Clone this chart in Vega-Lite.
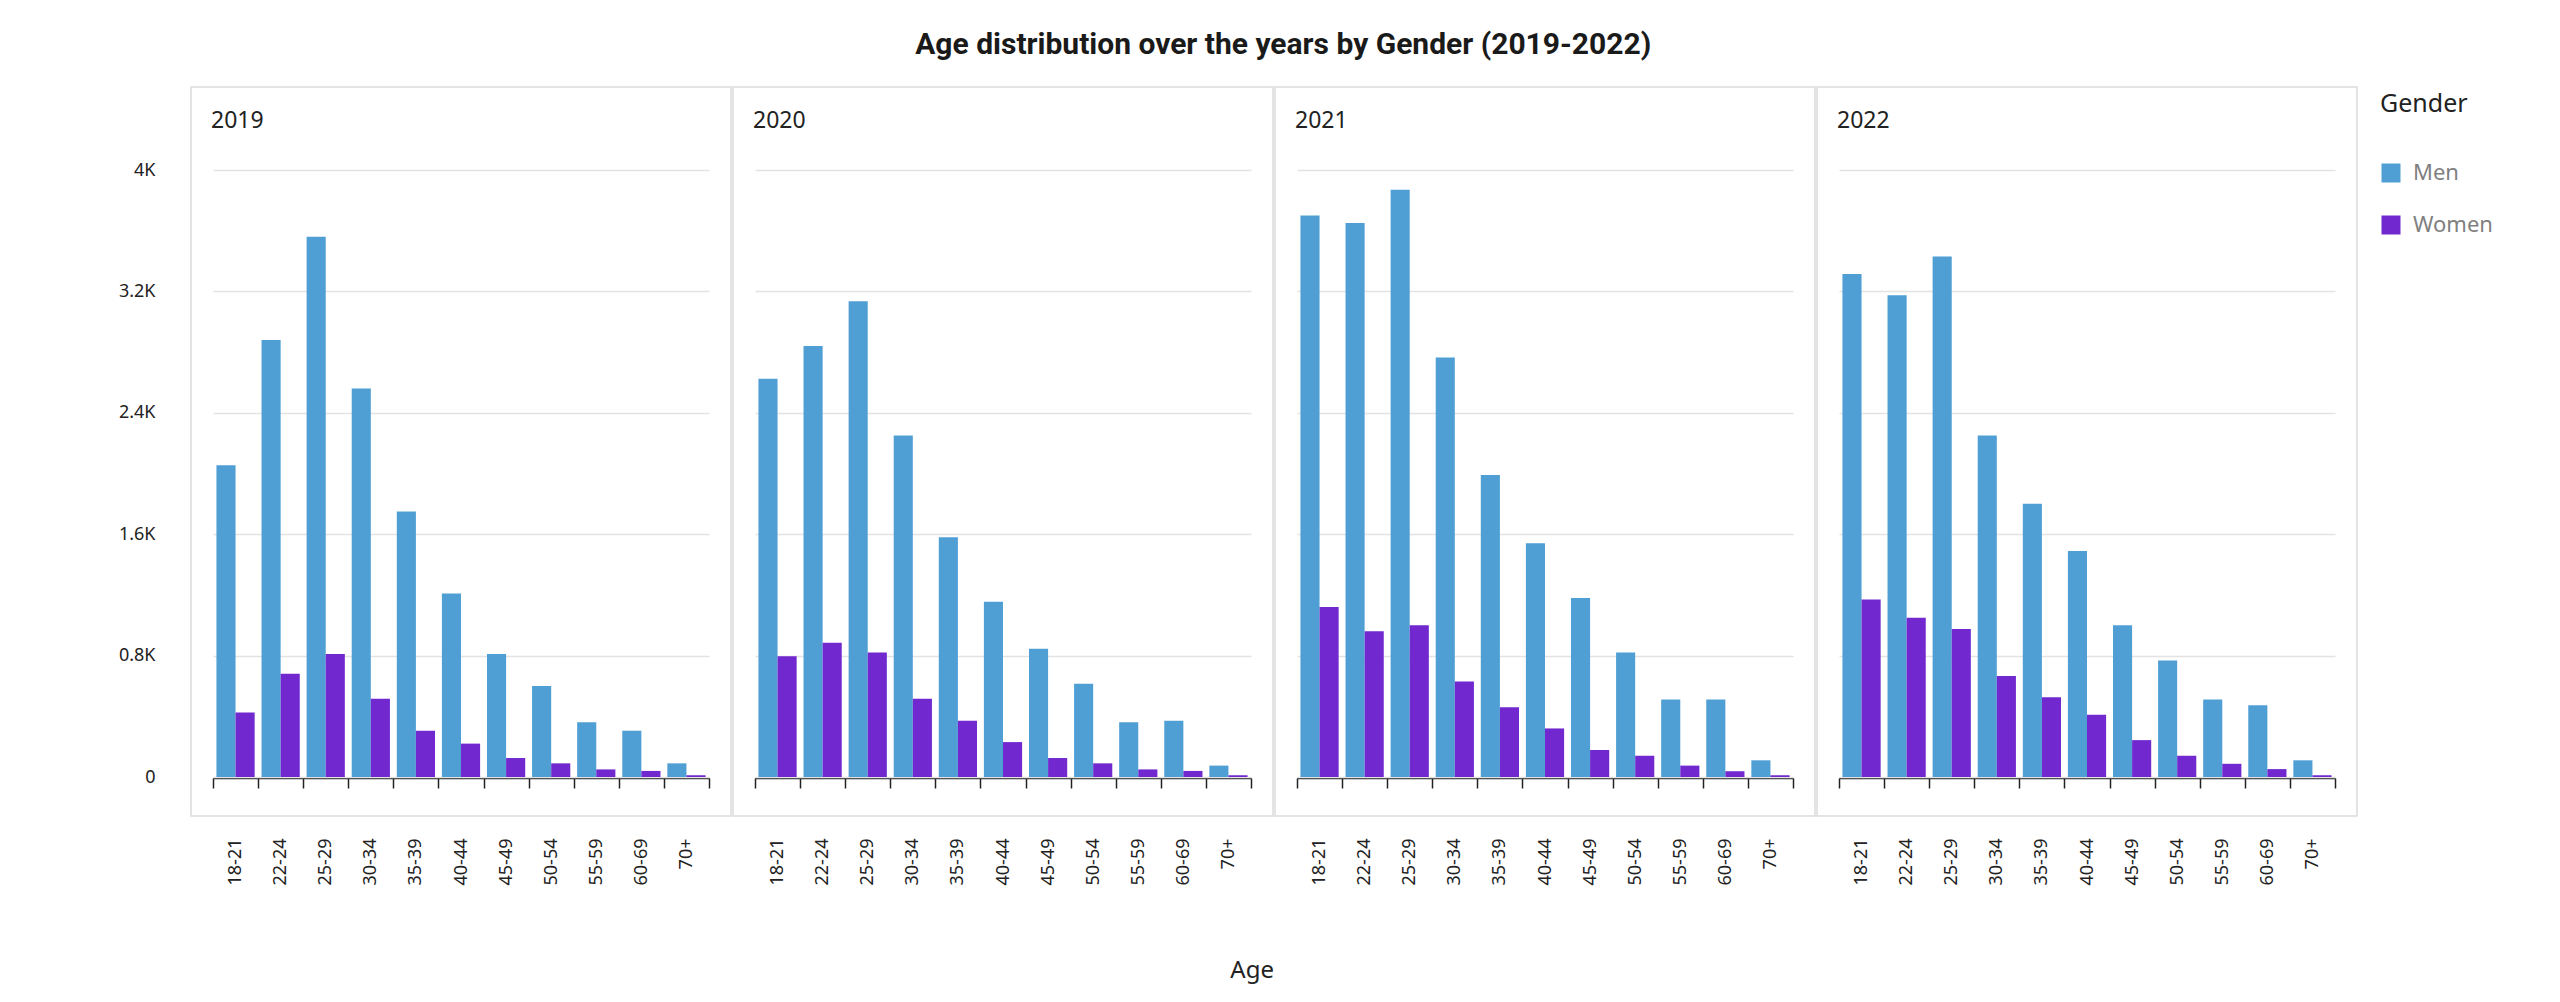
{
  "$schema": "https://vega.github.io/schema/vega-lite/v6.json",
  "background": "white",
  "padding": {"left": 118, "top": 30, "right": 10, "bottom": 10},
  "title": {"text": "Age distribution over the years by Gender (2019-2022)", "font": "Roboto", "fontSize": 30, "fontWeight": "bold", "color": "#1a1a1a", "anchor": "middle", "offset": 26, "dx": -25},
  "data": {"values": [
    {"Year": "2019", "Gender": "Men", "Age": "18-21", "Count": 2055},
    {"Year": "2019", "Gender": "Men", "Age": "22-24", "Count": 2880},
    {"Year": "2019", "Gender": "Men", "Age": "25-29", "Count": 3560},
    {"Year": "2019", "Gender": "Men", "Age": "30-34", "Count": 2560},
    {"Year": "2019", "Gender": "Men", "Age": "35-39", "Count": 1750},
    {"Year": "2019", "Gender": "Men", "Age": "40-44", "Count": 1210},
    {"Year": "2019", "Gender": "Men", "Age": "45-49", "Count": 810},
    {"Year": "2019", "Gender": "Men", "Age": "50-54", "Count": 600},
    {"Year": "2019", "Gender": "Men", "Age": "55-59", "Count": 360},
    {"Year": "2019", "Gender": "Men", "Age": "60-69", "Count": 305},
    {"Year": "2019", "Gender": "Men", "Age": "70+", "Count": 90},
    {"Year": "2019", "Gender": "Women", "Age": "18-21", "Count": 425},
    {"Year": "2019", "Gender": "Women", "Age": "22-24", "Count": 680},
    {"Year": "2019", "Gender": "Women", "Age": "25-29", "Count": 810},
    {"Year": "2019", "Gender": "Women", "Age": "30-34", "Count": 515},
    {"Year": "2019", "Gender": "Women", "Age": "35-39", "Count": 305},
    {"Year": "2019", "Gender": "Women", "Age": "40-44", "Count": 220},
    {"Year": "2019", "Gender": "Women", "Age": "45-49", "Count": 125},
    {"Year": "2019", "Gender": "Women", "Age": "50-54", "Count": 90},
    {"Year": "2019", "Gender": "Women", "Age": "55-59", "Count": 50},
    {"Year": "2019", "Gender": "Women", "Age": "60-69", "Count": 40},
    {"Year": "2019", "Gender": "Women", "Age": "70+", "Count": 12},
    {"Year": "2020", "Gender": "Men", "Age": "18-21", "Count": 2625},
    {"Year": "2020", "Gender": "Men", "Age": "22-24", "Count": 2840},
    {"Year": "2020", "Gender": "Men", "Age": "25-29", "Count": 3135},
    {"Year": "2020", "Gender": "Men", "Age": "30-34", "Count": 2250},
    {"Year": "2020", "Gender": "Men", "Age": "35-39", "Count": 1580},
    {"Year": "2020", "Gender": "Men", "Age": "40-44", "Count": 1155},
    {"Year": "2020", "Gender": "Men", "Age": "45-49", "Count": 845},
    {"Year": "2020", "Gender": "Men", "Age": "50-54", "Count": 615},
    {"Year": "2020", "Gender": "Men", "Age": "55-59", "Count": 360},
    {"Year": "2020", "Gender": "Men", "Age": "60-69", "Count": 370},
    {"Year": "2020", "Gender": "Men", "Age": "70+", "Count": 75},
    {"Year": "2020", "Gender": "Women", "Age": "18-21", "Count": 795},
    {"Year": "2020", "Gender": "Women", "Age": "22-24", "Count": 885},
    {"Year": "2020", "Gender": "Women", "Age": "25-29", "Count": 820},
    {"Year": "2020", "Gender": "Women", "Age": "30-34", "Count": 515},
    {"Year": "2020", "Gender": "Women", "Age": "35-39", "Count": 370},
    {"Year": "2020", "Gender": "Women", "Age": "40-44", "Count": 230},
    {"Year": "2020", "Gender": "Women", "Age": "45-49", "Count": 125},
    {"Year": "2020", "Gender": "Women", "Age": "50-54", "Count": 90},
    {"Year": "2020", "Gender": "Women", "Age": "55-59", "Count": 50},
    {"Year": "2020", "Gender": "Women", "Age": "60-69", "Count": 40},
    {"Year": "2020", "Gender": "Women", "Age": "70+", "Count": 12},
    {"Year": "2021", "Gender": "Men", "Age": "18-21", "Count": 3700},
    {"Year": "2021", "Gender": "Men", "Age": "22-24", "Count": 3650},
    {"Year": "2021", "Gender": "Men", "Age": "25-29", "Count": 3870},
    {"Year": "2021", "Gender": "Men", "Age": "30-34", "Count": 2765},
    {"Year": "2021", "Gender": "Men", "Age": "35-39", "Count": 1990},
    {"Year": "2021", "Gender": "Men", "Age": "40-44", "Count": 1540},
    {"Year": "2021", "Gender": "Men", "Age": "45-49", "Count": 1180},
    {"Year": "2021", "Gender": "Men", "Age": "50-54", "Count": 820},
    {"Year": "2021", "Gender": "Men", "Age": "55-59", "Count": 510},
    {"Year": "2021", "Gender": "Men", "Age": "60-69", "Count": 510},
    {"Year": "2021", "Gender": "Men", "Age": "70+", "Count": 110},
    {"Year": "2021", "Gender": "Women", "Age": "18-21", "Count": 1120},
    {"Year": "2021", "Gender": "Women", "Age": "22-24", "Count": 960},
    {"Year": "2021", "Gender": "Women", "Age": "25-29", "Count": 1000},
    {"Year": "2021", "Gender": "Women", "Age": "30-34", "Count": 630},
    {"Year": "2021", "Gender": "Women", "Age": "35-39", "Count": 460},
    {"Year": "2021", "Gender": "Women", "Age": "40-44", "Count": 320},
    {"Year": "2021", "Gender": "Women", "Age": "45-49", "Count": 178},
    {"Year": "2021", "Gender": "Women", "Age": "50-54", "Count": 140},
    {"Year": "2021", "Gender": "Women", "Age": "55-59", "Count": 75},
    {"Year": "2021", "Gender": "Women", "Age": "60-69", "Count": 38},
    {"Year": "2021", "Gender": "Women", "Age": "70+", "Count": 12},
    {"Year": "2022", "Gender": "Men", "Age": "18-21", "Count": 3315},
    {"Year": "2022", "Gender": "Men", "Age": "22-24", "Count": 3175},
    {"Year": "2022", "Gender": "Men", "Age": "25-29", "Count": 3430},
    {"Year": "2022", "Gender": "Men", "Age": "30-34", "Count": 2250},
    {"Year": "2022", "Gender": "Men", "Age": "35-39", "Count": 1800},
    {"Year": "2022", "Gender": "Men", "Age": "40-44", "Count": 1490},
    {"Year": "2022", "Gender": "Men", "Age": "45-49", "Count": 1000},
    {"Year": "2022", "Gender": "Men", "Age": "50-54", "Count": 768},
    {"Year": "2022", "Gender": "Men", "Age": "55-59", "Count": 510},
    {"Year": "2022", "Gender": "Men", "Age": "60-69", "Count": 473},
    {"Year": "2022", "Gender": "Men", "Age": "70+", "Count": 110},
    {"Year": "2022", "Gender": "Women", "Age": "18-21", "Count": 1170},
    {"Year": "2022", "Gender": "Women", "Age": "22-24", "Count": 1050},
    {"Year": "2022", "Gender": "Women", "Age": "25-29", "Count": 975},
    {"Year": "2022", "Gender": "Women", "Age": "30-34", "Count": 665},
    {"Year": "2022", "Gender": "Women", "Age": "35-39", "Count": 525},
    {"Year": "2022", "Gender": "Women", "Age": "40-44", "Count": 410},
    {"Year": "2022", "Gender": "Women", "Age": "45-49", "Count": 243},
    {"Year": "2022", "Gender": "Women", "Age": "50-54", "Count": 140},
    {"Year": "2022", "Gender": "Women", "Age": "55-59", "Count": 87},
    {"Year": "2022", "Gender": "Women", "Age": "60-69", "Count": 52},
    {"Year": "2022", "Gender": "Women", "Age": "70+", "Count": 12}
  ]},
  "spacing": 0,
  "facet": {
    "column": {
      "field": "Year", "type": "ordinal", "title": "Age",
      "header": {
        "labels": false,
        "titleOrient": "bottom", "titleFont": "Noto Sans", "titleFontSize": 24, "titleColor": "#222222", "titleFontWeight": "normal",
        "titlePadding": 64, "titleAlign": "right"
      }
    }
  },
  "spec": {
    "width": 540,
    "height": 729,
    "layer": [
      {
        "mark": {"type": "bar"},
        "encoding": {
          "x": {
            "field": "Age", "type": "nominal",
            "sort": ["18-21","22-24","25-29","30-34","35-39","40-44","45-49","50-54","55-59","60-69","70+"],
            "scale": {"range": [22, 518], "paddingInner": 0, "paddingOuter": 0},
            "axis": {"orient": "bottom", "offset": -39, "domainColor": "#222222", "domainWidth": 1.5, "tickColor": "#222222", "tickSize": 10, "tickWidth": 1.5, "tickBand": "extent", "labelAngle": -90, "labelPadding": 50, "labelFont": "Noto Sans", "labelFontSize": 18, "labelColor": "#222222", "grid": false},
            "title": null
          },
          "xOffset": {"field": "Gender", "type": "nominal", "scale": {"paddingInner": 0, "paddingOuter": 0.18}},
          "y": {
            "field": "Count", "type": "quantitative",
            "scale": {"domain": [0, 4000], "range": [690, 83], "nice": false},
            "axis": {"values": [0, 800, 1600, 2400, 3200, 4000], "grid": true, "gridColor": "#e3e3e3", "gridWidth": 1.5, "domain": false, "ticks": false, "labelPadding": 35, "labelExpr": "datum.value == 0 ? '0' : format(datum.value / 1000, '.1~f') + 'K'", "labelFont": "Noto Sans", "labelFontSize": 18, "labelColor": "#222222"},
            "title": null
          },
          "color": {
            "field": "Gender", "type": "nominal",
            "scale": {"domain": ["Men", "Women"], "range": ["#4f9fd5", "#7128cf"]},
            "legend": {"orient": "right", "offset": 17, "padding": 5, "title": "Gender", "titleFont": "Noto Sans", "titleFontSize": 25, "titleFontWeight": "normal", "titleColor": "#222222", "titlePadding": 45, "labelFont": "Noto Sans", "labelFontSize": 22, "labelColor": "#7f7f7f", "symbolType": "square", "symbolSize": 361, "symbolStrokeWidth": 0, "rowPadding": 30, "labelOffset": 11}
          }
        }
      },
      {
        "transform": [{"aggregate": [{"op": "count", "as": "n"}], "groupby": ["Year"]}],
        "mark": {"type": "text", "align": "left", "baseline": "alphabetic", "font": "Noto Sans", "fontSize": 23, "color": "#222222", "dx": -2},
        "encoding": {
          "text": {"field": "Year", "type": "nominal"},
          "x": {"datum": "18-21", "bandPosition": 0},
          "y": {"datum": 4277}
        }
      }
    ]
  },
  "config": {
    "view": {"stroke": "#dcdcdc", "strokeWidth": 1.5}
  }
}
